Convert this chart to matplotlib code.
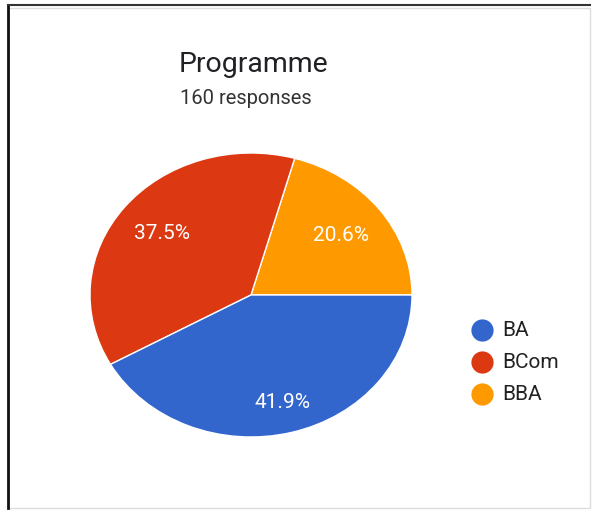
import matplotlib.pyplot as plt
from matplotlib.lines import Line2D
from matplotlib.patches import Rectangle

plt.rcParams['font.family'] = ['Roboto', 'DejaVu Sans']

# responses per programme (drawn counter-clockwise from 3 o'clock)
labels = ["BBA", "BCom", "BA"]
counts = [33, 60, 67]
colors = ["#ff9900", "#dc3912", "#3366cc"]
label_radius = [0.70, 0.70, 0.78]

legend_order = ["BA", "BCom", "BBA"]

W, H = 595, 513
fig = plt.figure(figsize=(W / 100, H / 100), dpi=100)
fig.patch.set_facecolor("white")


def px(x, y):
    # pixel position (from top-left) -> figure fraction
    return x / W, 1 - y / H


# pie box in pixels: x 90..412, y 153..437 (slightly wider than tall)
ax = fig.add_axes([90 / W, (H - 437) / H, 322 / W, 284 / H])
wedges, texts, autotexts = ax.pie(
    counts, colors=colors, startangle=0, counterclock=True,
    autopct="%.1f%%", pctdistance=0.7, radius=1,
    wedgeprops=dict(edgecolor="white", linewidth=1),
    textprops=dict(color="white", fontsize=15),
)
ax.set_aspect("auto")
ax.set_xlim(-1, 1)
ax.set_ylim(-1, 1)

# nudge each percentage to its own radius
for t, r in zip(autotexts, label_radius):
    x, y = t.get_position()
    d = (x ** 2 + y ** 2) ** 0.5
    t.set_position((x / d * r, y / d * r))

fig.text(*px(179, 72), "Programme", fontsize=20.5, color="#202124",
         va="baseline", ha="left")
fig.text(*px(180, 104), "160 responses", fontsize=14.5, color="#333333",
         va="baseline", ha="left")

# legend: coloured dot + name per row
for i, name in enumerate(legend_order):
    y = 330 + 32 * i
    c = colors[labels.index(name)]
    fig.add_artist(Line2D([px(482, y)[0]], [px(482, y)[1]], marker="o",
                          linestyle="", markersize=16, markerfacecolor=c,
                          markeredgecolor="none", transform=fig.transFigure))
    fig.text(*px(502, y), name, fontsize=15, color="#222222",
             va="center", ha="left")

# outer frame: dark on left/top, light on right/bottom
fig.add_artist(Rectangle((8 / W, 5 / H), (590 - 8) / W, (508 - 8) / H,
                         transform=fig.transFigure, fill=False,
                         edgecolor="#dddddd", linewidth=1))
fig.add_artist(Line2D([8 / W, 8 / W], [5 / H, 1 - 5 / H],
                      transform=fig.transFigure, color="#111111", linewidth=2))
fig.add_artist(Line2D([8 / W, 590 / W], [1 - 5 / H, 1 - 5 / H],
                      transform=fig.transFigure, color="#333333", linewidth=1.5))

fig.savefig("out.png", dpi=100)
